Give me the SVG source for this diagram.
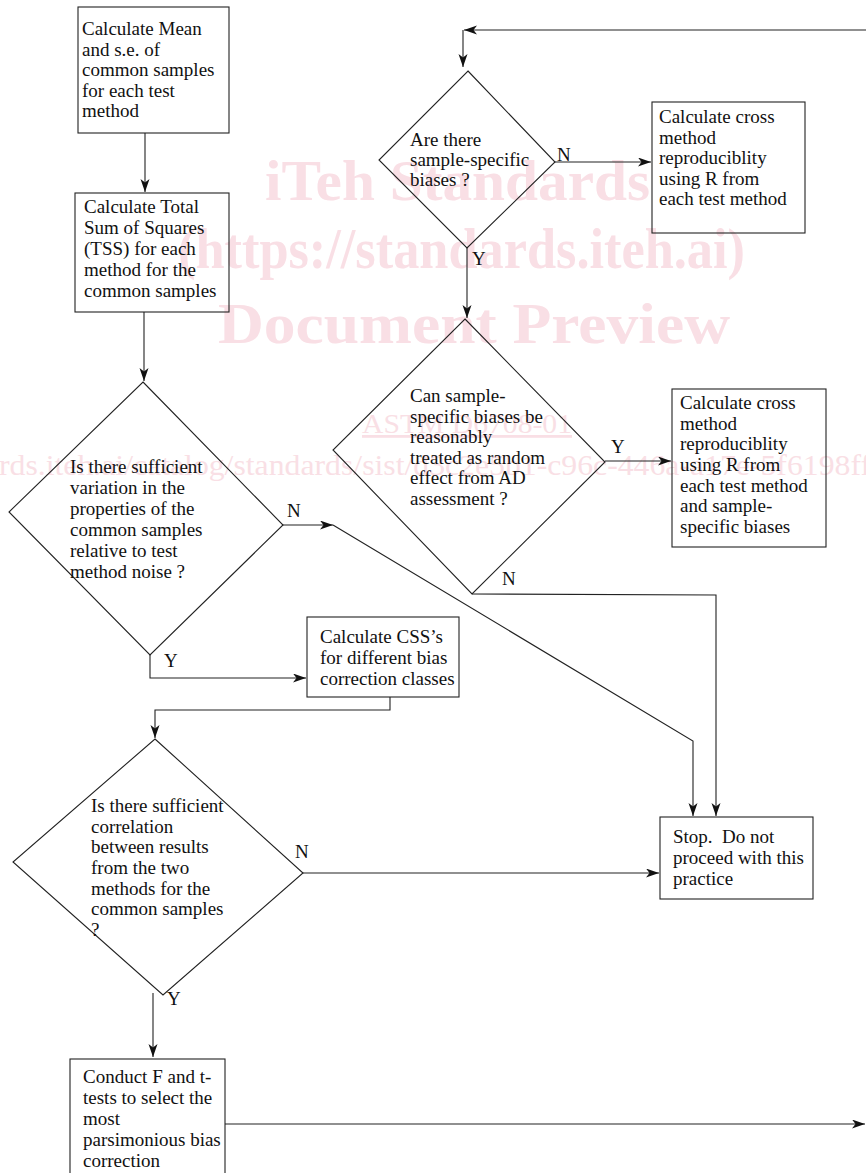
<svg xmlns="http://www.w3.org/2000/svg" width="866" height="1173" viewBox="0 0 866 1173">
<defs>
<marker id="ah" markerUnits="userSpaceOnUse" markerWidth="14" markerHeight="10" refX="13" refY="4.5" orient="auto">
<path d="M0,0 L13,4.5 L0,9 L3.5,4.5 z" fill="#111"/>
</marker>
<style>
.wm{font-family:"Liberation Serif","Times New Roman",serif;fill:#f9dfe5;}
.wmb{font-weight:bold;font-size:56px;}
.box{fill:none;stroke:#222;stroke-width:1.1;}
.t{font-family:"Liberation Serif","Times New Roman",serif;font-size:19px;fill:#111;}
.c{fill:none;stroke:#222;stroke-width:1.1;}
.a{marker-end:url(#ah);}
</style>
</defs>
<rect width="866" height="1173" fill="#fff"/>
<g id="watermark">
<text class="wm wmb" x="265" y="200" textLength="385" lengthAdjust="spacingAndGlyphs">iTeh Standards</text>
<text class="wm wmb" x="178" y="268" textLength="567" lengthAdjust="spacingAndGlyphs">(https://standards.iteh.ai)</text>
<text class="wm wmb" x="218" y="343" textLength="512" lengthAdjust="spacingAndGlyphs">Document Preview</text>
<text class="wm" x="362" y="433" font-size="28" textLength="210" lengthAdjust="spacingAndGlyphs" text-decoration="underline">ASTM D6708-01</text>
<text class="wm" x="-1" y="475" font-size="29" textLength="872" lengthAdjust="spacingAndGlyphs">rds.iteh.ai/catalog/standards/sist/d3c2e5b1-c96c-446a-a17e-5f6198ff</text>
</g>
<g id="connectors">
<path class="c a" d="M145,133 V192"/>
<path class="c a" d="M144,312 V381"/>
<path class="c a" d="M283,525 H333"/>
<path class="c a" d="M333,525 L693,741 V816"/>
<path class="c a" d="M150,655 V678 H306"/>
<path class="c a" d="M390,697 V710 H155 V738"/>
<path class="c a" d="M303,873 H659"/>
<path class="c a" d="M153,993 V1057"/>
<path class="c a" d="M225,1124 H865"/>
<path class="c a" d="M866,30 H464"/>
<path class="c a" d="M463,30 V67"/>
<path class="c a" d="M555,162 H651"/>
<path class="c a" d="M467,248 V318"/>
<path class="c a" d="M605,461 H671"/>
<path class="c a" d="M472,594 L716,595 V816"/>
</g>
<g id="labels">
<text class="t" x="287" y="517">N</text>
<text class="t" x="164" y="667">Y</text>
<text class="t" x="295" y="858">N</text>
<text class="t" x="167" y="1005">Y</text>
<text class="t" x="557" y="161">N</text>
<text class="t" x="472" y="265">Y</text>
<text class="t" x="611" y="453">Y</text>
<text class="t" x="502" y="585">N</text>
</g>
<g id="n_mean">
<rect class="box" x="78" y="7" width="151" height="126"/>
<text class="t" x="82" y="35">Calculate Mean</text>
<text class="t" x="82" y="55.5">and s.e. of</text>
<text class="t" x="82" y="76">common samples</text>
<text class="t" x="82" y="96.5">for each test</text>
<text class="t" x="82" y="117">method</text>
</g>
<g id="n_tss">
<rect class="box" x="75" y="193" width="154" height="119"/>
<text class="t" x="84" y="213">Calculate Total</text>
<text class="t" x="84" y="234">Sum of Squares</text>
<text class="t" x="84" y="255">(TSS) for each</text>
<text class="t" x="84" y="276">method for the</text>
<text class="t" x="84" y="297">common samples</text>
</g>
<g id="d_variation">
<polygon class="box" points="143,382 283,525 150,655 9,512"/>
<text class="t" x="70" y="473">Is there sufficient</text>
<text class="t" x="70" y="494">variation in the</text>
<text class="t" x="70" y="515">properties of the</text>
<text class="t" x="70" y="536">common samples</text>
<text class="t" x="70" y="557">relative to test</text>
<text class="t" x="70" y="578">method noise ?</text>
</g>
<g id="n_css">
<rect class="box" x="307" y="617" width="152" height="80"/>
<text class="t" x="320" y="643">Calculate CSS’s</text>
<text class="t" x="320" y="664">for different bias</text>
<text class="t" x="320" y="685">correction classes</text>
</g>
<g id="d_correlation">
<polygon class="box" points="155,739 303,873 163,995 13,862"/>
<text class="t" x="91" y="812">Is there sufficient</text>
<text class="t" x="91" y="833">correlation</text>
<text class="t" x="91" y="853">between results</text>
<text class="t" x="91" y="874">from the two</text>
<text class="t" x="91" y="895">methods for the</text>
<text class="t" x="91" y="915">common samples</text>
<text class="t" x="91" y="936">?</text>
</g>
<g id="n_ftest">
<rect class="box" x="70" y="1059" width="155" height="130"/>
<text class="t" x="83" y="1083">Conduct F and t-</text>
<text class="t" x="83" y="1104">tests to select the</text>
<text class="t" x="83" y="1125">most</text>
<text class="t" x="83" y="1146">parsimonious bias</text>
<text class="t" x="83" y="1167">correction</text>
</g>
<g id="n_stop">
<rect class="box" x="660" y="817" width="153" height="82"/>
<text class="t" x="673" y="843" xml:space="preserve">Stop.  Do not</text>
<text class="t" x="673" y="864">proceed with this</text>
<text class="t" x="673" y="885">practice</text>
</g>
<g id="d_biases">
<polygon class="box" points="468,71 555,162 467,248 379,160"/>
<text class="t" x="410" y="146">Are there</text>
<text class="t" x="410" y="166">sample-specific</text>
<text class="t" x="410" y="186">biases ?</text>
</g>
<g id="n_repro1">
<rect class="box" x="652" y="102" width="153" height="131"/>
<text class="t" x="659" y="123">Calculate cross</text>
<text class="t" x="659" y="143.5">method</text>
<text class="t" x="659" y="164">reproduciblity</text>
<text class="t" x="659" y="184.5">using R from</text>
<text class="t" x="659" y="205">each test method</text>
</g>
<g id="d_random">
<polygon class="box" points="465,319 605,462 472,594 333,450"/>
<text class="t" x="410" y="402">Can sample-</text>
<text class="t" x="410" y="423">specific biases be</text>
<text class="t" x="410" y="443">reasonably</text>
<text class="t" x="410" y="464">treated as random</text>
<text class="t" x="410" y="484">effect from AD</text>
<text class="t" x="410" y="505">assessment ?</text>
</g>
<g id="n_repro2">
<rect class="box" x="672" y="389" width="154" height="158"/>
<text class="t" x="680" y="409">Calculate cross</text>
<text class="t" x="680" y="430">method</text>
<text class="t" x="680" y="450">reproduciblity</text>
<text class="t" x="680" y="471">using R from</text>
<text class="t" x="680" y="492">each test method</text>
<text class="t" x="680" y="512">and sample-</text>
<text class="t" x="680" y="533">specific biases</text>
</g>
</svg>
